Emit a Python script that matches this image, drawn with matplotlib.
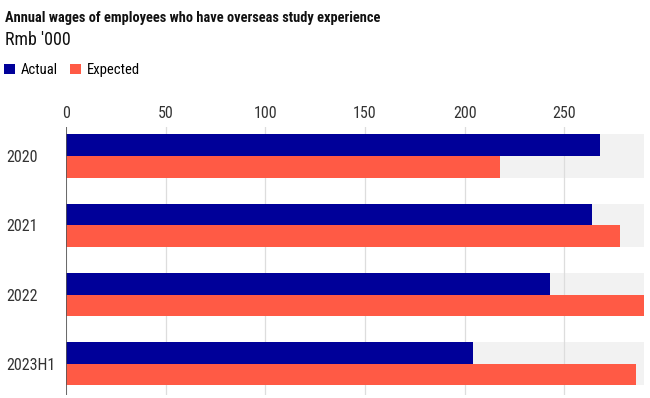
import matplotlib
matplotlib.use("Agg")
import matplotlib.pyplot as plt
from matplotlib import font_manager
from matplotlib.patches import Patch

categories = ["2020", "2021", "2022", "2023H1"]
actual = [268, 264, 243, 204]
expected = [218, 278, 290, 286]
xticks = [0, 50, 100, 150, 200, 250]

names = {f.name for f in font_manager.fontManager.ttflist}
FONT = "Roboto"
for cand in ["Roboto Condensed", "Barlow Semi Condensed", "Asap Condensed", "Encode Sans Condensed"]:
    if cand in names:
        FONT = cand
        break
plt.rcParams["font.family"] = [FONT, "DejaVu Sans"]

NAVY = "#000099"
CORAL = "#FF5A45"
BAND = "#F2F2F2"

fig = plt.figure(figsize=(6.5, 3.98), dpi=100)
ax = fig.add_axes([66 / 650, 1 - 395 / 398, (644 - 66) / 650, (395 - 127) / 398])

h = 0.312
ys = list(range(len(categories)))
for y in ys:
    ax.axhspan(y - h, y + h, xmin=0, xmax=1, color=BAND, zorder=0, lw=0)
ax.barh([y - h / 2 for y in ys], actual, height=h, color=NAVY, zorder=3, lw=0)
ax.barh([y + h / 2 for y in ys], expected, height=h, color=CORAL, zorder=3, lw=0)

ax.set_xlim(0, 290)
ax.set_ylim(3.45, -0.42)
ax.xaxis.tick_top()
ax.set_xticks(xticks)
ax.set_xticklabels([str(t) for t in xticks], fontsize=11.5, color="#333333")
ax.tick_params(axis="x", length=0, pad=4)
ax.set_yticks(ys)
ax.set_yticklabels(categories, fontsize=11.5, color="#333333", ha="left")
ax.tick_params(axis="y", length=0, pad=43)
ax.grid(axis="x", color="#DDDDDD", lw=0.9, zorder=1)
ax.set_axisbelow(True)
for s in ax.spines.values():
    s.set_visible(False)
ax.axvline(0, color="#555555", lw=1.2, zorder=4)

fig.text(5 / 650, 1 - 18 / 398, "Annual wages of employees who have overseas study experience",
         fontsize=10.4, fontweight="bold", color="#111111", va="center", ha="left")
fig.text(5 / 650, 1 - 40 / 398, "Rmb '000", fontsize=13, color="#111111", va="center", ha="left")

handles = [Patch(facecolor=NAVY, label="Actual"), Patch(facecolor=CORAL, label="Expected")]
fig.legend(handles=handles, loc="center left", bbox_to_anchor=(0.0, 1 - 70 / 398), ncol=2,
           frameon=False, fontsize=10.5, handlelength=0.72, handleheight=0.72, handletextpad=0.4,
           columnspacing=0.85, borderaxespad=0, borderpad=0.3)

fig.savefig("out.png", dpi=100)
